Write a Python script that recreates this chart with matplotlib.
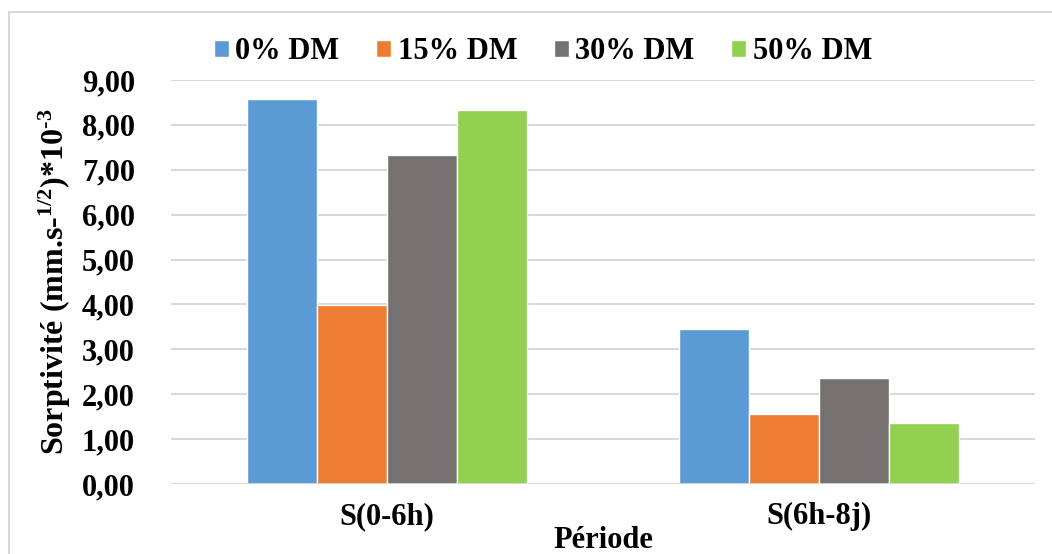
import matplotlib
matplotlib.use("Agg")
import matplotlib.pyplot as plt
from matplotlib.patches import Rectangle
import numpy as np

# Data
periods = ["S(0-6h)", "S(6h-8j)"]
series_names = ["0% DM", "15% DM", "30% DM", "50% DM"]
dm_0 = [8.57, 3.45]
dm_15 = [3.98, 1.56]
dm_30 = [7.33, 2.37]
dm_50 = [8.33, 1.35]
yticks = [0, 1, 2, 3, 4, 5, 6, 7, 8, 9]
ytick_labels = ["0,00", "1,00", "2,00", "3,00", "4,00", "5,00",
                "6,00", "7,00", "8,00", "9,00"]

colors = ["#5B9BD5", "#ED7D31", "#767171", "#92D050"]

plt.rcParams["font.family"] = ["Liberation Serif", "DejaVu Serif"]
plt.rcParams["font.weight"] = "bold"
plt.rcParams["mathtext.fontset"] = "custom"
plt.rcParams["mathtext.rm"] = "Liberation Serif:bold"
plt.rcParams["mathtext.bf"] = "Liberation Serif:bold"
plt.rcParams["mathtext.it"] = "Liberation Serif:bold"

FS = 22

W, H = 1052, 554
fig = plt.figure(figsize=(W / 100, H / 100), dpi=100)

# chart-area border
fig.patches.append(Rectangle((9 / W, -0.1), 1.2, 1 - 12 / H + 0.1,
                             transform=fig.transFigure, fill=False,
                             edgecolor="#D9D9D9", linewidth=1.5))

ax = fig.add_axes([171 / W, 70 / H, (1035 - 171) / W, (484 - 80) / H])

x = np.arange(len(periods))
bw = 0.1625
all_series = [dm_0, dm_15, dm_30, dm_50]
for i, (vals, name, c) in enumerate(zip(all_series, series_names, colors)):
    ax.bar(x + (i - 1.5) * bw, vals, width=bw, color=c, label=name,
           edgecolor="white", linewidth=1.0, zorder=3)

ax.set_xlim(-0.5, 1.5)
ax.set_ylim(0, 9)
ax.set_yticks(yticks)
ax.set_yticklabels(ytick_labels, fontsize=FS, fontweight="bold")
ax.set_xticks(x)
ax.set_xticklabels(periods, fontsize=FS, fontweight="bold")
ax.tick_params(axis="y", length=0, pad=26)
ax.tick_params(axis="x", length=0, pad=13)
ax.grid(axis="y", color="#D9D9D9", linewidth=1.5, zorder=0)
for s in ax.spines.values():
    s.set_visible(False)
ax.axhline(0, color="#D9D9D9", linewidth=2, zorder=4)

ax.set_ylabel("Sorptivité (mm.s-$^{\\mathbf{1/2}}$)*10$^{\\mathbf{\u20103}}$",
              fontsize=FS + 1, fontweight="bold", labelpad=6)
fig.text(603 / W, 1 - 541 / H, "Période", fontsize=FS, fontweight="bold",
         ha="center", va="center")

handles, labels = ax.get_legend_handles_labels()
fig.legend(handles, labels, loc="center", bbox_to_anchor=(543 / W, 1 - 52 / H),
           ncol=4, frameon=False, handlelength=0.5,
           handleheight=0.5, handletextpad=0.2, columnspacing=1.2,
           prop={"weight": "bold", "size": FS})

fig.savefig("out.png", dpi=100)
